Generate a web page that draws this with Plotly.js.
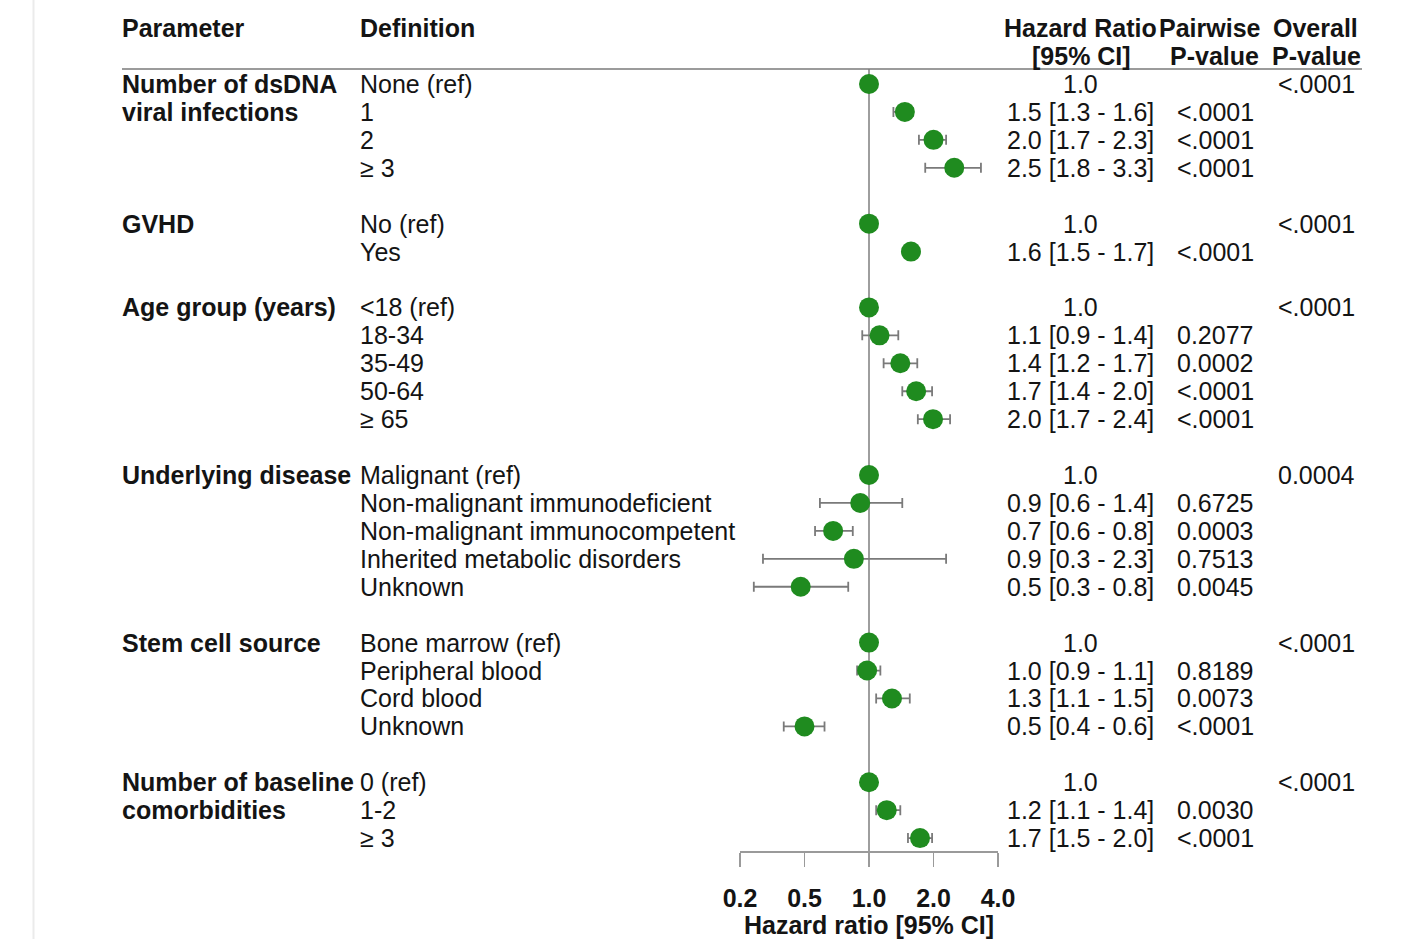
<!DOCTYPE html>
<html>
<head>
<meta charset="utf-8">
<script src="https://cdn.plot.ly/plotly-3.0.1.min.js"></script>
<style>html,body{margin:0;padding:0;background:#fff;}#chart{width:1428px;height:939px;}</style>
</head>
<body>
<div id="chart"></div>
<script>
// ---- data ----
const groupParams = [
  ["Number of dsDNA", "viral infections"],
  ["GVHD"],
  ["Age group (years)"],
  ["Underlying disease"],
  ["Stem cell source"],
  ["Number of baseline", "comorbidities"]
];
const groupDefs = [
  ["None (ref)", "1", "2", "≥ 3"],
  ["No (ref)", "Yes"],
  ["<18 (ref)", "18-34", "35-49", "50-64", "≥ 65"],
  ["Malignant (ref)", "Non-malignant immunodeficient", "Non-malignant immunocompetent", "Inherited metabolic disorders", "Unknown"],
  ["Bone marrow (ref)", "Peripheral blood", "Cord blood", "Unknown"],
  ["0 (ref)", "1-2", "≥ 3"]
];
const overallP = ["<.0001", "<.0001", "<.0001", "0.0004", "<.0001", "<.0001"];

const hr = [1, 1.47, 2.0, 2.5,  1, 1.57,  1, 1.12, 1.4, 1.66, 1.99,  1, 0.91, 0.68, 0.85, 0.48,  1, 0.98, 1.28, 0.5,  1, 1.21, 1.73];
const ciLow = [null, 1.3, 1.71, 1.83,  null, 1.5,  null, 0.93, 1.17, 1.43, 1.69,  null, 0.59, 0.56, 0.32, 0.29,  null, 0.88, 1.08, 0.4,  null, 1.08, 1.52];
const ciHigh = [null, 1.6, 2.29, 3.33,  null, 1.66,  null, 1.37, 1.68, 1.97, 2.39,  null, 1.43, 0.84, 2.29, 0.8,  null, 1.13, 1.55, 0.62,  null, 1.4, 1.97];
const hrText = ["1.0", "1.5 [1.3 - 1.6]", "2.0 [1.7 - 2.3]", "2.5 [1.8 - 3.3]",
  "1.0", "1.6 [1.5 - 1.7]",
  "1.0", "1.1 [0.9 - 1.4]", "1.4 [1.2 - 1.7]", "1.7 [1.4 - 2.0]", "2.0 [1.7 - 2.4]",
  "1.0", "0.9 [0.6 - 1.4]", "0.7 [0.6 - 0.8]", "0.9 [0.3 - 2.3]", "0.5 [0.3 - 0.8]",
  "1.0", "1.0 [0.9 - 1.1]", "1.3 [1.1 - 1.5]", "0.5 [0.4 - 0.6]",
  "1.0", "1.2 [1.1 - 1.4]", "1.7 [1.5 - 2.0]"];
const pairP = ["", "<.0001", "<.0001", "<.0001",
  "", "<.0001",
  "", "0.2077", "0.0002", "<.0001", "<.0001",
  "", "0.6725", "0.0003", "0.7513", "0.0045",
  "", "0.8189", "0.0073", "<.0001",
  "", "0.0030", "<.0001"];
const tickVals = [0.25, 0.5, 1, 2, 4];
const tickLabels = ["0.2", "0.5", "1.0", "2.0", "4.0"];
const headers1 = ["Parameter", "Definition", "Hazard Ratio", "Pairwise", "Overall"];
const headers2 = ["[95% CI]", "P-value", "P-value"];

// ---- layout helpers ----
const W = 1428, H = 939;
const FONT = "Liberation Sans, Arial, Helvetica, sans-serif";
const TXT = "#141414";
const rowTop = 84, rowStep = 27.93;
const yMin = -rowTop / rowStep, yMax = (H - rowTop) / rowStep;
const px = v => v / W;

// row index for each item (a blank row between groups)
const rows = [], groupStart = [];
let r = 0;
groupDefs.forEach((g, gi) => {
  groupStart.push(r);
  g.forEach(() => { rows.push(r); r++; });
  r++;
});
const defs = groupDefs.flat();

const ann = [];
function add(text, x, y, anchor, bold) {
  ann.push({text: text, x: px(x), xref: "paper", y: y, yref: "y", xanchor: anchor, yanchor: "middle",
    showarrow: false, font: {family: FONT, size: 25, color: TXT, weight: bold ? "bold" : "normal"}});
}
// headers
const hY1 = -2.005, hY2 = -1.0;
add(headers1[0], 120, hY1, "left", true);
add(headers1[1], 358, hY1, "left", true);
add(headers1[2], 1080, hY1, "center", true);
add(headers1[3], 1210, hY1, "center", true);
add(headers1[4], 1315, hY1, "center", true);
add(headers2[0], 1081, hY2, "center", true);
add(headers2[1], 1214, hY2, "center", true);
add(headers2[2], 1316, hY2, "center", true);
// group parameters & overall p
groupParams.forEach((p, gi) => {
  p.forEach((line, li) => add(line, 120, groupStart[gi] + li, "left", true));
  add(overallP[gi], 1276, groupStart[gi], "left", false);
});
// rows
rows.forEach((ry, i) => {
  add(defs[i], 358, ry, "left", false);
  add(hrText[i], 1080, ry, "center", false);
  if (pairP[i]) add(pairP[i], 1175, ry, "left", false);
});

const errPlus = hr.map((v, i) => ciHigh[i] == null ? NaN : ciHigh[i] - v);
const errMinus = hr.map((v, i) => ciLow[i] == null ? NaN : v - ciLow[i]);

const axisY = 851;
const trace = {
  type: "scatter", mode: "markers", x: hr, y: rows, cliponaxis: false,
  marker: {size: 20, color: "#1f8b1f", line: {width: 0}},
  error_x: {type: "data", symmetric: false, array: errPlus, arrayminus: errMinus,
    color: "#7a7a7a", thickness: 1.8, width: 5},
  hoverinfo: "x"
};

const layout = {
  width: W, height: H, margin: {l: 0, r: 0, t: 0, b: 0},
  paper_bgcolor: "#fff", plot_bgcolor: "#fff", showlegend: false,
  font: {family: FONT, color: TXT},
  xaxis: {
    type: "log", domain: [px(740), px(998)], range: [Math.log10(0.25), Math.log10(4)],
    tickmode: "array", tickvals: tickVals, ticktext: tickLabels,
    ticks: "outside", ticklen: 14, tickwidth: 1.5, tickcolor: "#9a9a9a",
    showline: true, linecolor: "#9a9a9a", linewidth: 1.5,
    showgrid: false, zeroline: false, anchor: "free", position: 1 - axisY / H,
    ticklabelstandoff: 10,
    tickfont: {family: FONT, size: 25, color: TXT, weight: "bold"},
    title: {text: "Hazard ratio [95% CI]", font: {family: FONT, size: 25, color: TXT, weight: "bold"}, standoff: 6},
    fixedrange: true
  },
  yaxis: {range: [yMax, yMin], visible: false, domain: [0, 1], fixedrange: true},
  shapes: [
    {type: "line", xref: "paper", yref: "paper", x0: px(33.5), x1: px(33.5), y0: 0, y1: 1,
      line: {color: "#ebebeb", width: 2}},
    {type: "line", xref: "paper", yref: "y", x0: px(122), x1: px(1362), y0: -0.537, y1: -0.537,
      line: {color: "#7a7a7a", width: 1.5}},
    {type: "line", xref: "x", yref: "y", x0: 1, x1: 1, y0: -0.537, y1: (axisY - rowTop) / rowStep,
      line: {color: "#6a6a6a", width: 1.3}, layer: "below"}
  ],
  annotations: ann
};

Plotly.newPlot("chart", [trace], layout, {displayModeBar: false, staticPlot: true});
</script>
</body>
</html>
